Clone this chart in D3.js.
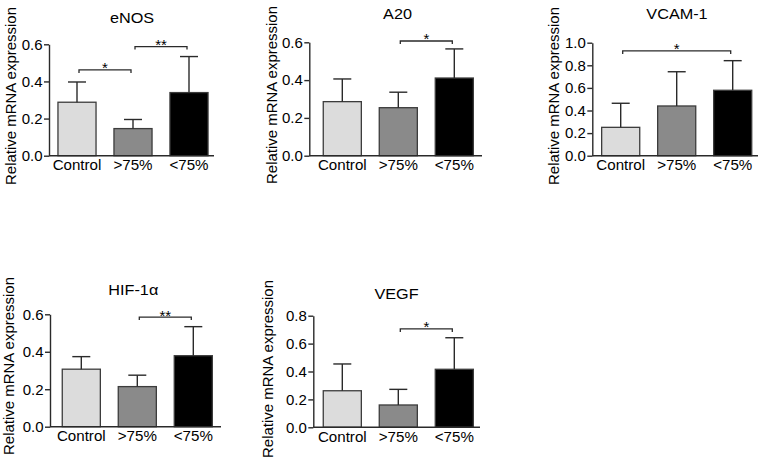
<!DOCTYPE html>
<html>
<head>
<meta charset="utf-8">
<script src="https://cdn.jsdelivr.net/npm/d3@7"></script>
<style>
  body { margin: 0; background: #fff; }
  svg { display: block; font-family: "Liberation Sans", Arial, sans-serif; }
</style>
</head>
<body>
<svg id="chart" width="767" height="465"></svg>
<script>
// ---- data ----
const categories = ["Control", ">75%", "<75%"];
const genes = ["eNOS", "A20", "VCAM-1", "HIF-1\u03b1", "VEGF"];

const eNOSMean = [0.288, 0.146, 0.340];
const eNOSErr  = [0.109, 0.049, 0.194];
const A20Mean  = [0.286, 0.254, 0.411];
const A20Err   = [0.120, 0.082, 0.154];
const VCAMMean = [0.251, 0.440, 0.579];
const VCAMErr  = [0.213, 0.303, 0.262];
const HIFMean  = [0.307, 0.214, 0.379];
const HIFErr   = [0.067, 0.061, 0.155];
const VEGFMean = [0.262, 0.160, 0.416];
const VEGFErr  = [0.192, 0.112, 0.226];

const eNOSTicks = [0, 0.2, 0.4, 0.6];
const A20Ticks  = [0, 0.2, 0.4, 0.6];
const VCAMTicks = [0, 0.2, 0.4, 0.6, 0.8, 1.0];
const HIFTicks  = [0, 0.2, 0.4, 0.6];
const VEGFTicks = [0, 0.2, 0.4, 0.6, 0.8];

// significance brackets: [fromIndex, toIndex, level (data units), label]
const eNOSSig = [[0, 1, 0.462, "*"], [1, 2, 0.588, "**"]];
const A20Sig  = [[1, 2, 0.607, "*"]];
const VCAMSig = [[0, 2, 0.927, "*"]];
const HIFSig  = [[1, 2, 0.585, "**"]];
const VEGFSig = [[1, 2, 0.705, "*"]];

const yLabel = "Relative mRNA expression";
const fills = ["#dcdcdc", "#8a8a8a", "#000000"];

// ---- layout (positions only) ----
const layout = [
  {x0: 49,    off: 0,   xEnd: 214, y0: 155.7, yTop: 44.3, titleX: 132,   titleY: 22.7, labX: 16,    labY: 96},
  {x0: 309.3, off: 5,   xEnd: 482, y0: 155.7, yTop: 42.3, titleX: 397.5, titleY: 19,   labX: 276.5, labY: 95},
  {x0: 592.3, off: 0.4, xEnd: 758, y0: 155.7, yTop: 42.7, titleX: 677,   titleY: 19.3, labX: 559.3, labY: 96},
  {x0: 50,    off: 3.3, xEnd: 221, y0: 426.7, yTop: 314.3, titleX: 133.3, titleY: 295, labX: 14,    labY: 366},
  {x0: 313.3, off: 1,   xEnd: 480, y0: 427.3, yTop: 315.7, titleX: 396.5, titleY: 299.3, labX: 273.3, labY: 369}
];

const panels = [
  {gene: genes[0], mean: eNOSMean, err: eNOSErr, ticks: eNOSTicks, sig: eNOSSig},
  {gene: genes[1], mean: A20Mean,  err: A20Err,  ticks: A20Ticks,  sig: A20Sig},
  {gene: genes[2], mean: VCAMMean, err: VCAMErr, ticks: VCAMTicks, sig: VCAMSig},
  {gene: genes[3], mean: HIFMean,  err: HIFErr,  ticks: HIFTicks,  sig: HIFSig},
  {gene: genes[4], mean: VEGFMean, err: VEGFErr, ticks: VEGFTicks, sig: VEGFSig}
];

const svg = d3.select("#chart");
const ink = "#2a2a2a";
const txt = "#000";

panels.forEach((p, i) => {
  const L = layout[i];
  const g = svg.append("g");

  const x = d3.scaleBand().domain(categories)
    .range([L.x0 + L.off, L.x0 + L.off + 168])
    .paddingInner(0.32).paddingOuter(0.16);
  const yMax = p.ticks[p.ticks.length - 1];
  const y = d3.scaleLinear().domain([0, yMax]).range([L.y0, L.yTop]);

  // bars
  g.selectAll("rect.bar").data(categories).enter().append("rect")
    .attr("class", "bar")
    .attr("x", d => x(d))
    .attr("width", x.bandwidth())
    .attr("y", (d, k) => y(p.mean[k]))
    .attr("height", (d, k) => L.y0 - y(p.mean[k]))
    .attr("fill", (d, k) => fills[k])
    .attr("stroke", "#3c3c3c")
    .attr("stroke-width", 1.3);

  // error bars (upper only)
  const eb = g.selectAll("g.err").data(categories).enter().append("g").attr("class", "err");
  eb.append("line")
    .attr("x1", d => x(d) + x.bandwidth() / 2)
    .attr("x2", d => x(d) + x.bandwidth() / 2)
    .attr("y1", (d, k) => y(p.mean[k]))
    .attr("y2", (d, k) => y(p.mean[k] + p.err[k]))
    .attr("stroke", ink).attr("stroke-width", 1.4);
  eb.append("line")
    .attr("x1", d => x(d) + x.bandwidth() / 2 - 9)
    .attr("x2", d => x(d) + x.bandwidth() / 2 + 9)
    .attr("y1", (d, k) => y(p.mean[k] + p.err[k]))
    .attr("y2", (d, k) => y(p.mean[k] + p.err[k]))
    .attr("stroke", ink).attr("stroke-width", 1.4);

  // y axis
  const yAxis = d3.axisLeft(y).tickValues(p.ticks).tickFormat(d3.format(".1f"))
    .tickSize(5).tickSizeOuter(0).tickPadding(1.5);
  const ya = g.append("g").attr("transform", `translate(${L.x0},0)`).call(yAxis);
  ya.select(".domain").attr("stroke", ink).attr("stroke-width", 1.4);
  ya.selectAll(".tick line").attr("stroke", ink).attr("stroke-width", 1.4);
  ya.selectAll(".tick text").attr("font-size", 15).attr("fill", txt)
    .attr("font-family", "Liberation Sans, Arial, sans-serif");

  // x axis
  const xAxis = d3.axisBottom(x).tickSize(0).tickPadding(4.5);
  const xa = g.append("g").attr("transform", `translate(0,${L.y0})`).call(xAxis);
  xa.select(".domain").remove();
  xa.append("line").attr("x1", L.x0).attr("x2", L.xEnd).attr("y1", 0).attr("y2", 0)
    .attr("stroke", ink).attr("stroke-width", 1.4);
  xa.selectAll(".tick text").attr("font-size", 14).attr("fill", txt)
    .attr("font-family", "Liberation Sans, Arial, sans-serif")
    .attr("transform", "scale(1.08,1)");

  // title
  g.append("text")
    .attr("transform", `translate(${L.titleX},${L.titleY}) scale(1.12,1)`)
    .attr("text-anchor", "middle").attr("font-size", 14.5).attr("fill", txt)
    .text(p.gene);

  // y label
  g.append("text")
    .attr("transform", `translate(${L.labX},${L.labY}) rotate(-90) scale(1.07,1)`)
    .attr("text-anchor", "middle").attr("font-size", 14).attr("fill", txt)
    .text(yLabel);

  // significance brackets
  p.sig.forEach(s => {
    const xa1 = x(categories[s[0]]) + x.bandwidth() / 2 + 2;
    const xa2 = x(categories[s[1]]) + x.bandwidth() / 2 - 2;
    const yy = y(s[2]);
    g.append("path")
      .attr("d", `M${xa1},${yy + 3}V${yy}H${xa2}V${yy + 3}`)
      .attr("fill", "none").attr("stroke", ink).attr("stroke-width", 1.3);
    g.append("text")
      .attr("x", (xa1 + xa2) / 2).attr("y", yy + 3.5)
      .attr("text-anchor", "middle").attr("font-size", 15).attr("fill", txt)
      .text(s[3]);
  });
});
</script>
</body>
</html>
